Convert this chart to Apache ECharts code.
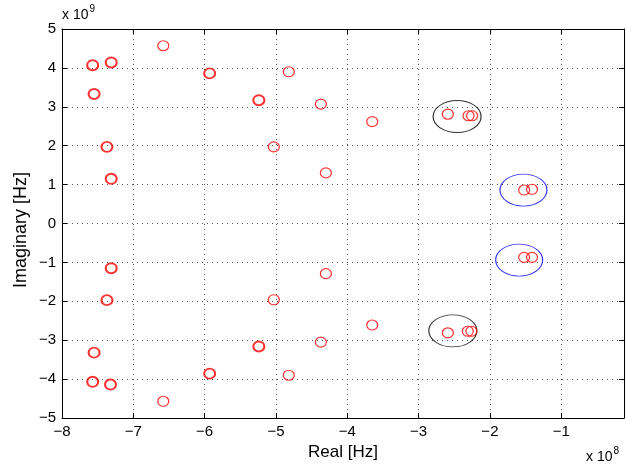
<!DOCTYPE html>
<html>
<head>
<meta charset="utf-8">
<script src="https://cdn.jsdelivr.net/npm/echarts@6/dist/echarts.min.js"></script>
<style>
  html, body { margin: 0; padding: 0; background: #fff; }
  #chart { width: 626px; height: 469px; }
</style>
</head>
<body>
<div id="chart"></div>
<script>
// Pole locations: real part in units of 1e8 Hz, imaginary part in units of 1e9 Hz.
// Poles drawn with a heavier outline (two nearly coincident poles).
const doublePoles = [
  [-7.57, 4.07], [-7.31, 4.14], [-7.55, 3.33], [-5.93, 3.86], [-5.24, 3.17],
  [-7.37, 1.97], [-7.31, 1.15],
  [-7.31, -1.15], [-7.37, -1.97], [-7.55, -3.32], [-7.57, -4.07], [-7.32, -4.14],
  [-5.93, -3.86], [-5.24, -3.16]
];
// Single poles.
const singlePoles = [
  [-6.58, 4.57], [-4.82, 3.90], [-4.37, 3.07], [-5.03, 1.97], [-4.30, 1.30],
  [-3.65, 2.62], [-2.59, 2.81], [-2.30, 2.77], [-2.25, 2.77], [-1.52, 0.86], [-1.41, 0.88],
  [-6.58, -4.57], [-4.82, -3.90], [-4.37, -3.05], [-5.03, -1.96], [-4.30, -1.29],
  [-3.65, -2.61], [-2.59, -2.81], [-2.31, -2.77], [-2.26, -2.77], [-1.52, -0.87], [-1.41, -0.87]
];
// Highlighted pole clusters (centres).
const blackClusters = [[-2.46, 2.75], [-2.52, -2.76]];
const blueClusters = [[-1.53, 0.86], [-1.59, -0.94]];

// Axis ranges and tick spacing.
const xRange = [-8, -0.12];
const yRange = [-5, 5];
const xTickStep = 1;
const yTickStep = 1;

const FONT = "'Liberation Sans', Arial, Helvetica, sans-serif";
const fmtTick = v => {
  if (Math.abs(v - Math.round(v)) > 1e-6) return '';
  const n = Math.round(v);
  return n < 0 ? '\u2212' + Math.abs(n) : String(n);
};

const gridLine = {
  show: true,
  lineStyle: { color: '#555', width: 1, type: [1, 4] }
};
const axisLine = { show: true, onZero: false, lineStyle: { color: '#000', width: 1 } };
const axisTick = { show: true, inside: true, length: 5, lineStyle: { color: '#000', width: 1 } };

const chart = echarts.init(document.getElementById('chart'), null, { renderer: 'canvas' });

chart.setOption({
  animation: false,
  backgroundColor: '#fff',
  grid: { left: 62, top: 29, width: 562, height: 389, containLabel: false },
  xAxis: [
    {
      type: 'value', position: 'bottom',
      min: xRange[0], max: xRange[1], interval: xTickStep,
      axisLine, axisTick,
      axisLabel: { formatter: fmtTick, color: '#000', fontSize: 15, fontFamily: FONT, margin: 6, showMaxLabel: false },
      splitLine: gridLine
    },
    {
      type: 'value', position: 'top',
      min: xRange[0], max: xRange[1], interval: xTickStep,
      axisLine, axisTick,
      axisLabel: { show: false },
      splitLine: { show: false }
    }
  ],
  yAxis: [
    {
      type: 'value', position: 'left',
      min: yRange[0], max: yRange[1], interval: yTickStep,
      axisLine, axisTick,
      axisLabel: { formatter: fmtTick, color: '#000', fontSize: 15, fontFamily: FONT, margin: 6 },
      splitLine: gridLine
    },
    {
      type: 'value', position: 'right',
      min: yRange[0], max: yRange[1], interval: yTickStep,
      axisLine, axisTick,
      axisLabel: { show: false },
      splitLine: { show: false }
    }
  ],
  series: [
    {
      type: 'scatter', name: 'clusters', data: blackClusters,
      symbol: 'circle', symbolSize: [48, 32], silent: true,
      itemStyle: { color: 'transparent', borderColor: '#000', borderWidth: 1 }
    },
    {
      type: 'scatter', name: 'clusters2', data: blueClusters,
      symbol: 'circle', symbolSize: [47, 32], silent: true,
      itemStyle: { color: 'transparent', borderColor: '#0000ff', borderWidth: 1 }
    },
    {
      type: 'scatter', name: 'poles', data: singlePoles,
      symbol: 'circle', symbolSize: [11, 10], silent: true,
      itemStyle: { color: 'transparent', borderColor: '#ff0000', borderWidth: 1.2 }
    },
    {
      type: 'scatter', name: 'double poles', data: doublePoles,
      symbol: 'circle', symbolSize: [11, 10], silent: true,
      itemStyle: { color: 'transparent', borderColor: '#ff0000', borderWidth: 2 }
    }
  ],
  graphic: [
    {
      type: 'text', x: 343, y: 452,
      style: { text: 'Real [Hz]', font: '17px ' + FONT, fill: '#000', textAlign: 'center', textVerticalAlign: 'middle' }
    },
    {
      type: 'text', x: 21, y: 230, rotation: Math.PI / 2,
      style: { text: 'Imaginary [Hz]', font: '18px ' + FONT, fill: '#000', textAlign: 'center', textVerticalAlign: 'middle' }
    },
    {
      type: 'text', x: 62, y: 22,
      style: {
        text: '{b|x 10}{s|9}',
        rich: {
          b: { font: '14px ' + FONT, fill: '#000', verticalAlign: 'bottom' },
          s: { font: '10px ' + FONT, fill: '#000', verticalAlign: 'top', padding: [0, 0, 8, 1] }
        },
        textVerticalAlign: 'bottom'
      }
    },
    {
      type: 'text', x: 586, y: 464,
      style: {
        text: '{b|x 10}{s|8}',
        rich: {
          b: { font: '14px ' + FONT, fill: '#000', verticalAlign: 'bottom' },
          s: { font: '10px ' + FONT, fill: '#000', verticalAlign: 'top', padding: [0, 0, 8, 1] }
        },
        textVerticalAlign: 'bottom'
      }
    }
  ]
});
</script>
</body>
</html>
